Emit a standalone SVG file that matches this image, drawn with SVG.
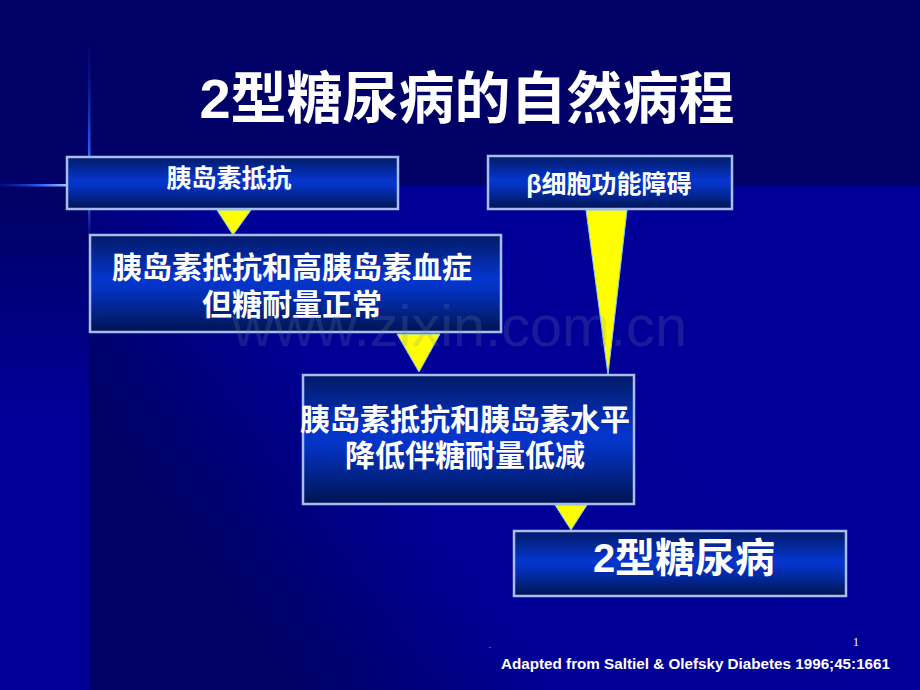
<svg xmlns="http://www.w3.org/2000/svg" width="920" height="690" viewBox="0 0 920 690">
  <defs>
    <linearGradient id="mainBg" gradientUnits="userSpaceOnUse" x1="700" y1="250" x2="150" y2="650">
      <stop offset="0" stop-color="#000099"/>
      <stop offset="0.55" stop-color="#000096"/>
      <stop offset="0.85" stop-color="#000066"/>
      <stop offset="1" stop-color="#000066"/>
    </linearGradient>
    <linearGradient id="leftBg" gradientUnits="userSpaceOnUse" x1="0" y1="200" x2="0" y2="420">
      <stop offset="0" stop-color="#000066"/>
      <stop offset="1" stop-color="#000099"/>
    </linearGradient>
    <linearGradient id="boxFill" x1="0" y1="0" x2="0" y2="1">
      <stop offset="0" stop-color="#021a66"/>
      <stop offset="0.45" stop-color="#0535cc"/>
      <stop offset="0.55" stop-color="#0433c4"/>
      <stop offset="1" stop-color="#001452"/>
    </linearGradient>
    <linearGradient id="vLine" gradientUnits="userSpaceOnUse" x1="0" y1="20" x2="0" y2="245">
      <stop offset="0" stop-color="#000066" stop-opacity="0"/>
      <stop offset="0.55" stop-color="#2255ee"/>
      <stop offset="0.75" stop-color="#5a88ff"/>
      <stop offset="1" stop-color="#1133cc" stop-opacity="0"/>
    </linearGradient>
    <linearGradient id="hLine" gradientUnits="userSpaceOnUse" x1="0" y1="0" x2="68" y2="0">
      <stop offset="0" stop-color="#0a1a99" stop-opacity="0.4"/>
      <stop offset="0.6" stop-color="#2a66ff"/>
      <stop offset="1" stop-color="#a8c0ff"/>
    </linearGradient>
    <style>
      .box { fill: url(#boxFill); stroke: #a6bdf0; stroke-width: 2.5; }
      .tri { fill: #ffff00; stroke: #7fc8ff; stroke-width: 1; }
      .t { font-family: "Liberation Sans", "Noto Sans CJK SC", sans-serif; font-weight: bold; fill: #ffffff; text-anchor: middle; }
    </style>
  </defs>

  <!-- background -->
  <rect x="0" y="0" width="920" height="690" fill="#000066"/>
  <rect x="89" y="186" width="831" height="504" fill="url(#mainBg)"/>
  <rect x="0" y="186" width="89" height="504" fill="url(#leftBg)"/>
  <rect x="88" y="20" width="2.5" height="225" fill="url(#vLine)"/>
  <rect x="0" y="184" width="68" height="2.5" fill="url(#hLine)"/>

  <!-- title -->
  <text class="t" x="467" y="118" font-size="56">2型糖尿病的自然病程</text>

  <!-- connectors -->
  <g id="connectors">
    <polygon class="tri" points="217,210 251,210 233,235"/>
    <polygon class="tri" points="397,334 440,334 419,372"/>
    <polygon class="tri" points="586,210 627,210 608,375"/>
    <polygon class="tri" points="555,505 587,505 571,530"/>
  </g>

  <!-- nodes -->
  <g id="node-ir">
    <rect class="box" x="67" y="157" width="331" height="52"/>
    <text class="t" x="229" y="187" font-size="25">胰岛素抵抗</text>
  </g>
  <g id="node-beta">
    <rect class="box" x="488" y="156" width="244" height="53"/>
    <text class="t" x="609" y="193" font-size="25">β细胞功能障碍</text>
  </g>
  <g id="node-hyper">
    <rect class="box" x="90" y="235" width="411" height="97"/>
    <text class="t" x="292" y="278" font-size="30">胰岛素抵抗和高胰岛素血症</text>
    <text class="t" x="292" y="315" font-size="30">但糖耐量正常</text>
  </g>
  <g id="node-igt">
    <rect class="box" x="303" y="375" width="331" height="129"/>
    <text class="t" x="465" y="430" font-size="30">胰岛素抵抗和胰岛素水平</text>
    <text class="t" x="465" y="466" font-size="30">降低伴糖耐量低减</text>
  </g>
  <g id="node-t2dm">
    <rect class="box" x="514" y="531" width="332" height="65"/>
    <text class="t" x="684" y="572" font-size="40">2型糖尿病</text>
  </g>

  <!-- watermark (drawn over the slide, faint) -->
  <text x="232" y="346" font-family="Liberation Sans, Arial, sans-serif" font-size="57" fill="#8080b0" fill-opacity="0.2" textLength="455" lengthAdjust="spacingAndGlyphs">www.zixin.com.cn</text>

  <!-- footer -->
  <text x="489" y="648" font-family="Liberation Serif, serif" font-size="8" fill="#ffffff">.</text>
  <text x="853" y="646" font-family="Liberation Serif, serif" font-size="12" fill="#ffffff">1</text>
  <text x="501" y="669" font-family="Liberation Sans, Arial, sans-serif" font-weight="bold" font-size="14" fill="#ffffff" textLength="389" lengthAdjust="spacingAndGlyphs">Adapted from Saltiel &amp; Olefsky Diabetes 1996;45:1661</text>
</svg>
